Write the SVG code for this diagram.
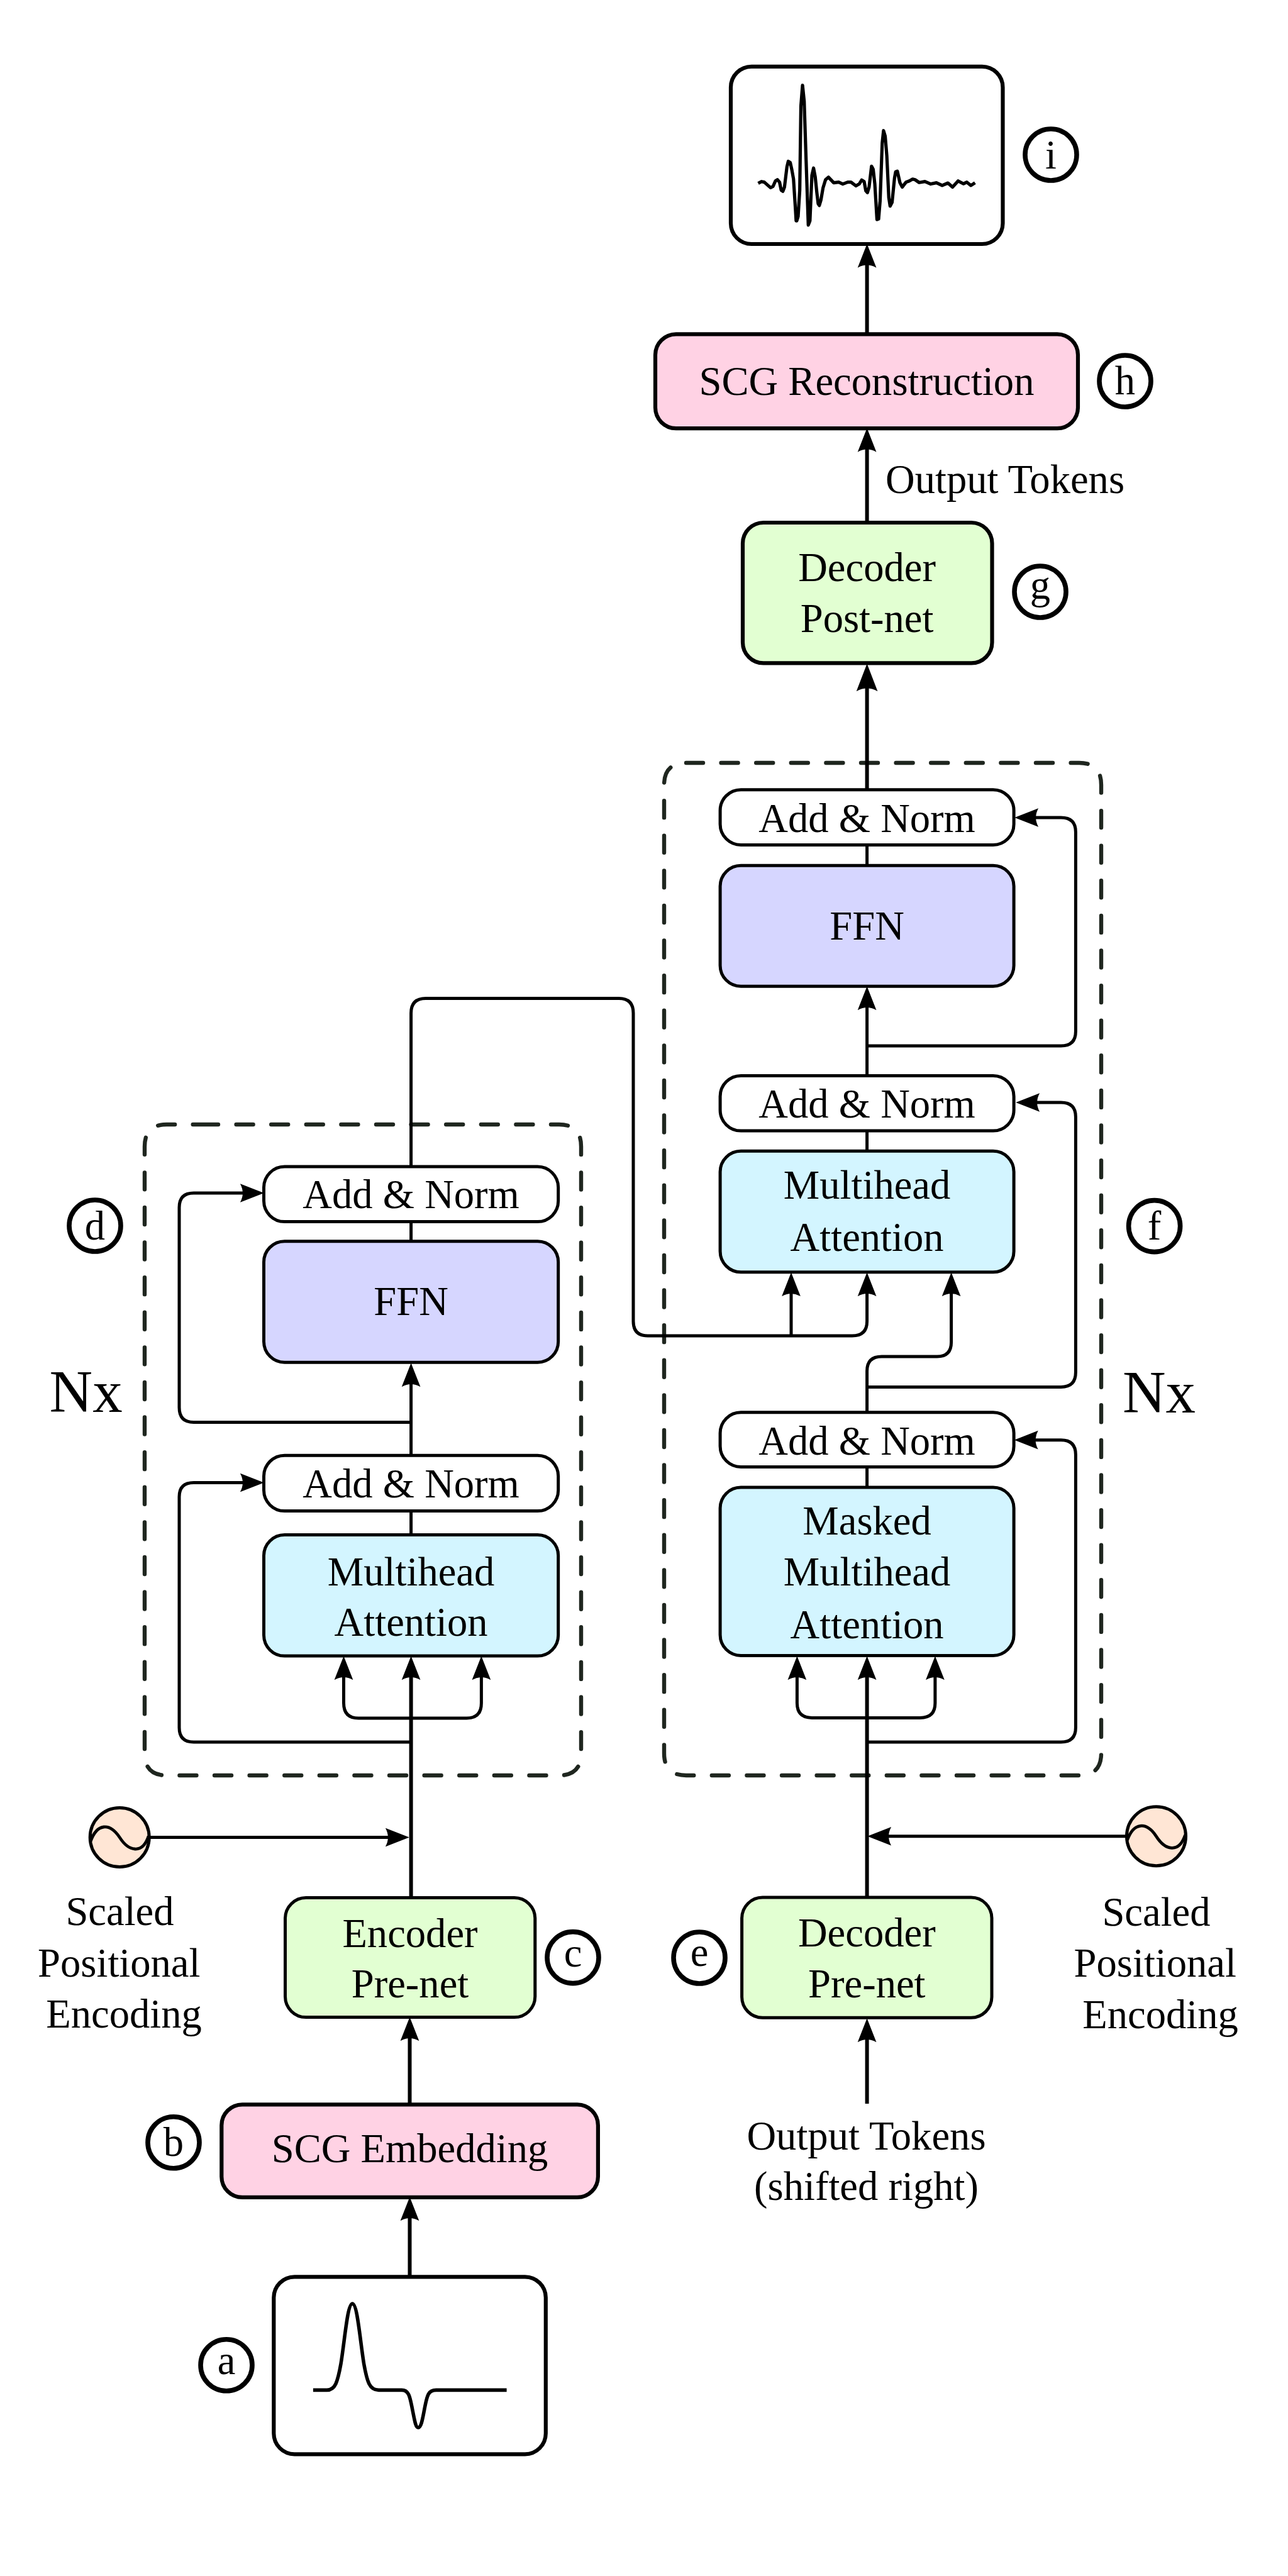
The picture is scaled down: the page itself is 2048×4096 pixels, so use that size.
<svg xmlns="http://www.w3.org/2000/svg" width="2048" height="4096" viewBox="0 0 2048 4096">
<style>
text{font-family:"Liberation Serif","Times New Roman",serif;font-size:64.6px;fill:#000;text-anchor:middle}
.nx{font-size:95px;text-anchor:start}
.st{text-anchor:start}
.b{stroke:#000;stroke-width:5;stroke-linejoin:round}
.b2{stroke:#000;stroke-width:6.2;stroke-linejoin:round}
.w{fill:#fff}.p{fill:#ffd2e4}.g{fill:#e2ffd2}.c{fill:#d3f5ff}.l{fill:#d6d6ff}
.f{fill:none;stroke:#1f261f;stroke-width:6.4;stroke-linecap:round;stroke-dasharray:27 28.6}
.k{fill:none;stroke:#000;stroke-width:5}
.k2{fill:none;stroke:#000;stroke-width:6}
.a{marker-end:url(#ah)}
.a2{marker-end:url(#ah2)}
.o{fill:#fff;stroke:#000;stroke-width:7.6}
.s{fill:#ffe6d5;stroke:#000;stroke-width:5}
.sw{fill:none;stroke:#000;stroke-width:4.8}
</style>
<defs>
<marker id="ah" markerUnits="userSpaceOnUse" markerWidth="38" markerHeight="32" viewBox="0 0 37 30" refX="7" refY="15" orient="auto">
<path d="M37 15L0 .5Q8 15 0 29.5Z" fill="#000"/>
</marker>
<marker id="ah2" markerUnits="userSpaceOnUse" markerWidth="44" markerHeight="36" viewBox="0 0 43 34" refX="8" refY="17" orient="auto">
<path d="M43 17L0 .5Q9 17 0 33.5Z" fill="#000"/>
</marker>
</defs>
<rect width="2048" height="4096" fill="#fff"/>

<g id="frame-encoder"><path class="f" d="M320 1788H889Q924 1788 924 1823V2788Q924 2823 889 2823H265Q230 2823 230 2788V1823Q230 1788 265 1788H320"/></g>
<g id="frame-decoder"><path class="f" d="M1091 1213H1716Q1751 1213 1751 1248V2788Q1751 2823 1716 2823H1091Q1056 2823 1056 2788V1248Q1056 1213 1091 1213"/></g>

<g id="connectors">
<path class="k2 a" d="M651.5 3620V3524"/>
<path class="k2 a" d="M651.5 3346V3238"/>
<path class="k2 a" d="M653.6 3018V2664"/>
<path class="k a" d="M653.6 2732H570Q546.5 2732 546.5 2708V2664"/>
<path class="k a" d="M653.6 2732H742Q765.4 2732 765.4 2708V2664"/>
<path class="k a" d="M653.6 2770H308Q285 2770 285 2747V2380Q285 2357.5 308 2357.5H389"/>
<path class="k" d="M653.6 2441V2402"/>
<path class="k a" d="M653.6 2314V2198"/>
<path class="k a" d="M653.6 2261.5H308Q285 2261.5 285 2238V1920Q285 1897 308 1897H389"/>
<path class="k" d="M653.6 1974V1943"/>
<path class="k a" d="M653.6 1855V1611Q653.6 1587.5 677 1587.5H984Q1007 1587.5 1007 1611V2101Q1007 2124 1030 2124H1355Q1378.6 2124 1378.6 2101V2054"/>
<path class="k a" d="M1258 2124V2054"/>
<path class="k a" d="M238 2921.5H620"/>
<path class="k a" d="M1791 2919.8H1410"/>
<path class="k2 a" d="M1378.6 3345V3240"/>
<path class="k2 a" d="M1378.6 3017V2664"/>
<path class="k a" d="M1378.6 2731.4H1291Q1267.4 2731.4 1267.4 2708V2664"/>
<path class="k a" d="M1378.6 2731.4H1463Q1486.9 2731.4 1486.9 2708V2664"/>
<path class="k a" d="M1378.6 2770H1687Q1710.4 2770 1710.4 2747V2313Q1710.4 2289.7 1687 2289.7H1643.5"/>
<path class="k" d="M1378.6 2365V2332"/>
<path class="k a" d="M1378.6 2246V2180Q1378.6 2157 1402 2157H1490Q1512.6 2157 1512.6 2134V2054"/>
<path class="k a" d="M1378.6 2205.4H1687Q1710.4 2205.4 1710.4 2182V1776Q1710.4 1753 1687 1753H1646"/>
<path class="k" d="M1378.6 1830V1798"/>
<path class="k a" d="M1378.6 1710V1599"/>
<path class="k a" d="M1378.6 1663H1687Q1710.4 1663 1710.4 1640V1323Q1710.4 1300 1687 1300H1644"/>
<path class="k" d="M1378.6 1376V1343"/>
<path class="k2 a2" d="M1378.6 1256V1091"/>
<path class="k2 a" d="M1378.6 831V711.5"/>
<path class="k2 a" d="M1378.6 531V418.5"/>
</g>

<g id="node-input"><rect class="w b2" x="435.3" y="3620.3" width="432.5" height="282" rx="33"/>
<path fill="none" stroke="#000" stroke-width="5.6" vector-effect="non-scaling-stroke" transform="translate(438.86 3616.2) scale(.26122 .19505)" d="M226 944H310C360 944 375 880 395 730C420 520 435 240 465 240C495 240 510 520 535 730C555 880 570 944 625 944H765C810 944 815 1000 830 1100C845 1200 850 1250 866 1250C882 1250 890 1200 905 1090C920 990 925 944 975 944H1404"/></g>
<g id="node-scg-embedding"><rect class="p b2" x="352.3" y="3346.4" width="598.6" height="147.5" rx="33"/><text x="651.6" y="3437.6">SCG Embedding</text></g>
<g id="node-encoder-prenet"><rect class="g b" x="453.5" y="3017.6" width="397.3" height="190" rx="33"/><text x="652" y="3096">Encoder</text><text x="652" y="3175.6">Pre-net</text></g>
<g id="node-enc-attention"><rect class="c b" x="419.5" y="2440.6" width="468.2" height="192.5" rx="33"/><text x="653.6" y="2520.8">Multihead</text><text x="653.6" y="2601">Attention</text></g>
<g id="node-enc-norm1"><rect class="w b" x="419.5" y="2314.2" width="468.2" height="88.4" rx="33"/><text x="653.6" y="2380.5">Add &amp; Norm</text></g>
<g id="node-enc-ffn"><rect class="l b" x="419.5" y="1973.7" width="468.2" height="192.5" rx="33"/><text x="653.6" y="2091">FFN</text></g>
<g id="node-enc-norm2"><rect class="w b" x="419.5" y="1855" width="468.2" height="87.6" rx="33"/><text x="653.6" y="1921">Add &amp; Norm</text></g>

<g id="node-decoder-prenet"><rect class="g b" x="1179.6" y="3017" width="397.4" height="191.3" rx="33"/><text x="1378.3" y="3095">Decoder</text><text x="1378.3" y="3175.6">Pre-net</text></g>
<g id="node-masked-attention"><rect class="c b" x="1145.1" y="2365.1" width="467" height="267.4" rx="33"/><text x="1378.6" y="2439.5">Masked</text><text x="1378.6" y="2521">Multihead</text><text x="1378.6" y="2604.6">Attention</text></g>
<g id="node-dec-norm1"><rect class="w b" x="1145.1" y="2245.8" width="467" height="86.6" rx="33"/><text x="1378.6" y="2312.6">Add &amp; Norm</text></g>
<g id="node-dec-attention"><rect class="c b" x="1145.1" y="1830.3" width="467" height="192.5" rx="33"/><text x="1378.6" y="1906.4">Multihead</text><text x="1378.6" y="1988.9">Attention</text></g>
<g id="node-dec-norm2"><rect class="w b" x="1145.1" y="1710.4" width="467" height="87.7" rx="33"/><text x="1378.6" y="1776.6">Add &amp; Norm</text></g>
<g id="node-dec-ffn"><rect class="l b" x="1145.1" y="1376.3" width="467" height="191.9" rx="33"/><text x="1378.6" y="1494">FFN</text></g>
<g id="node-dec-norm3"><rect class="w b" x="1145.1" y="1255.7" width="467" height="87.8" rx="33"/><text x="1378.6" y="1322.6">Add &amp; Norm</text></g>
<g id="node-decoder-postnet"><rect class="g b2" x="1181" y="831" width="396.5" height="223.4" rx="33"/><text x="1378.6" y="923.5">Decoder</text><text x="1378.6" y="1005">Post-net</text></g>
<g id="node-scg-reconstruction"><rect class="p b2" x="1042" y="531.3" width="672" height="149.8" rx="33"/><text x="1378" y="628">SCG Reconstruction</text></g>
<g id="node-output"><rect class="w b2" x="1162" y="105.9" width="432.5" height="282.1" rx="33"/>
<polyline fill="none" stroke="#000" stroke-width="5.2" stroke-linejoin="round" vector-effect="non-scaling-stroke" transform="translate(1170.3 117.03) scale(.26122 .19505)" points="135,895 155,880 172,885 210,930 225,920 240,875 252,865 265,885 275,950 285,960 295,925 310,760 318,715 330,725 340,785 350,860 362,1110 366,1200 370,1200 378,1165 388,950 395,265 405,95 415,225 425,640 440,1235 450,1200 462,830 472,770 482,840 492,970 500,1060 507,1075 517,1030 530,930 545,865 563,845 595,890 625,885 650,900 680,885 700,885 730,915 750,900 765,868 780,880 790,955 800,970 810,925 825,755 835,780 845,900 858,1190 868,1185 877,1040 890,565 898,465 908,510 918,670 930,1010 938,1080 950,1050 965,850 972,800 982,795 998,890 1012,925 1035,885 1055,875 1075,860 1090,865 1115,888 1150,880 1185,900 1220,890 1255,912 1290,892 1318,925 1352,875 1385,898 1405,885 1430,912 1455,890"/></g>

<g id="pos-enc-left"><circle class="s" cx="190.2" cy="2921.5" r="47"/><path class="sw" transform="translate(190.2 2921.5)" d="M-46 6C-36 -22 -16 -24 0 0C14 22 36 28 46 -2"/><text x="190.5" y="3060.9">Scaled</text><text x="189.3" y="3142.8">Positional</text><text x="197" y="3224">Encoding</text></g>
<g id="pos-enc-right"><circle class="s" cx="1838.5" cy="2919.8" r="47"/><path class="sw" transform="translate(1838.5 2919.8)" d="M-46 6C-36 -22 -16 -24 0 0C14 22 36 28 46 -2"/><text x="1838.5" y="3061.5">Scaled</text><text x="1836.8" y="3143">Positional</text><text x="1845" y="3224.7">Encoding</text></g>

<g id="label-output-shifted"><text x="1377.5" y="3417.8">Output Tokens</text><text x="1377.5" y="3497.5">(shifted right)</text></g>
<g id="label-output-tokens"><text class="st" x="1408" y="783.5">Output Tokens</text></g>
<g id="label-nx-left"><text class="nx" x="78.6" y="2245">Nx</text></g>
<g id="label-nx-right"><text class="nx" x="1785" y="2246">Nx</text></g>

<g id="tag-a"><circle class="o" cx="360" cy="3760.7" r="41"/><text x="360" y="3775">a</text></g>
<g id="tag-b"><circle class="o" cx="276" cy="3406.8" r="41"/><text x="276" y="3428">b</text></g>
<g id="tag-c"><circle class="o" cx="911" cy="3112.6" r="41"/><text x="911" y="3127">c</text></g>
<g id="tag-d"><circle class="o" cx="151" cy="1949" r="41"/><text x="151" y="1971">d</text></g>
<g id="tag-e"><circle class="o" cx="1112" cy="3113" r="41"/><text x="1112" y="3126">e</text></g>
<g id="tag-f"><circle class="o" cx="1835.6" cy="1949.6" r="41"/><text x="1835.6" y="1971">f</text></g>
<g id="tag-g"><circle class="o" cx="1654" cy="941" r="41"/><text x="1654" y="952">g</text></g>
<g id="tag-h"><circle class="o" cx="1789" cy="606" r="41"/><text x="1789" y="627">h</text></g>
<g id="tag-i"><circle class="o" cx="1671" cy="246" r="41"/><text x="1671" y="268">i</text></g>
</svg>
